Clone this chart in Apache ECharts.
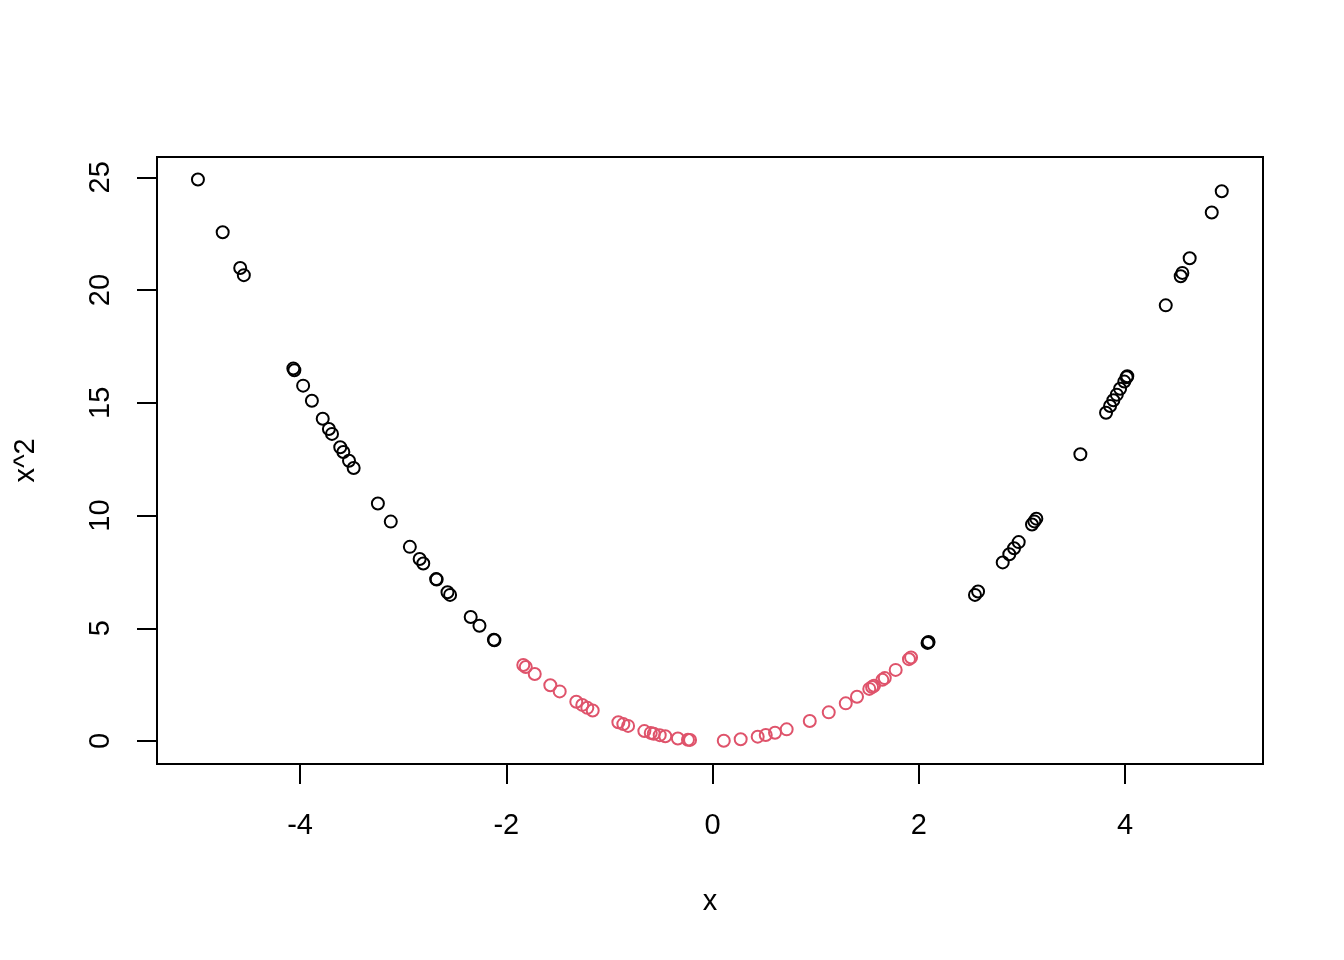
<!DOCTYPE html>
<html>
<head>
<meta charset="utf-8">
<script src="https://cdn.jsdelivr.net/npm/echarts@6/dist/echarts.min.js"></script>
<style>
html,body{margin:0;padding:0;background:#fff;}
#chart{width:1344px;height:960px;}
</style>
</head>
<body>
<div id="chart"></div>
<script>
// x values with |x| >= 2 (black) and their squares
const blackX = [-4.99, -4.75, -4.58, -4.545, -4.065, -4.055, -3.97, -3.885, -3.78, -3.72, -3.69, -3.61, -3.58, -3.525, -3.48,
  -3.245, -3.12, -2.935, -2.84, -2.805, -2.68, -2.675, -2.57, -2.545, -2.345, -2.26, -2.12, -2.115,
  2.085, 2.095, 2.545, 2.575, 2.814, 2.878, 2.924, 2.969, 3.098, 3.121, 3.140, 3.567,
  3.816, 3.855, 3.887, 3.920, 3.952, 3.993, 4.016, 4.022, 4.395, 4.540, 4.556, 4.627, 4.841, 4.938];
const blackY = [24.90, 22.56, 20.98, 20.66, 16.52, 16.44, 15.76, 15.09, 14.29, 13.84, 13.62, 13.03, 12.82, 12.43, 12.11,
  10.53, 9.73, 8.61, 8.07, 7.87, 7.18, 7.16, 6.60, 6.48, 5.50, 5.11, 4.49, 4.47,
  4.35, 4.39, 6.48, 6.63, 7.92, 8.28, 8.55, 8.82, 9.60, 9.74, 9.86, 12.72,
  14.56, 14.86, 15.11, 15.36, 15.62, 15.94, 16.13, 16.18, 19.32, 20.61, 20.76, 21.41, 23.44, 24.38];
// x values with |x| < 2 (red) and their squares
const redX = [-1.835, -1.811, -1.724, -1.573, -1.482, -1.321, -1.263, -1.214, -1.162, -0.913, -0.865, -0.819,
  -0.661, -0.599, -0.570, -0.512, -0.458, -0.336, -0.238, -0.218,
  0.109, 0.273, 0.438, 0.516, 0.606, 0.719, 0.943, 1.127, 1.292, 1.401, 1.520, 1.547, 1.566, 1.647, 1.670, 1.776, 1.905, 1.925];
const redY = [3.37, 3.28, 2.97, 2.47, 2.20, 1.74, 1.60, 1.47, 1.35, 0.83, 0.75, 0.67,
  0.44, 0.36, 0.32, 0.26, 0.21, 0.11, 0.057, 0.048,
  0.012, 0.075, 0.192, 0.266, 0.367, 0.517, 0.889, 1.270, 1.669, 1.963, 2.311, 2.393, 2.452, 2.713, 2.789, 3.154, 3.629, 3.706];
const xTicks = [-4, -2, 0, 2, 4];
const yTicks = [0, 5, 10, 15, 20, 25];

const pair = (xs, ys) => xs.map((v, i) => [v, ys[i]]);
const FONT = "'Liberation Sans', Arial, sans-serif";

const chart = echarts.init(document.getElementById('chart'), null, {renderer: 'canvas'});
chart.setOption({
  backgroundColor: '#ffffff',
  animation: false,
  grid: {
    left: 157, right: 81, top: 157, bottom: 196,
    show: true, borderColor: '#000', borderWidth: 2, backgroundColor: 'transparent',
    containLabel: false, outerBoundsMode: 'none'
  },
  xAxis: {
    type: 'value', min: -5.387, max: 5.338, position: 'bottom',
    name: 'x', nameLocation: 'middle', nameGap: 123,
    nameTextStyle: {fontFamily: FONT, fontSize: 29, color: '#000'},
    axisLine: {show: false, onZero: false},
    splitLine: {show: false},
    axisTick: {show: true, customValues: xTicks, length: 20, lineStyle: {color: '#000', width: 2}},
    axisLabel: {customValues: xTicks, fontFamily: FONT, fontSize: 29, color: '#000', margin: 47}
  },
  yAxis: {
    type: 'value', min: -1.02, max: 25.90, position: 'left',
    name: 'x^2', nameLocation: 'middle', nameGap: 117, nameRotate: 90,
    nameTextStyle: {fontFamily: FONT, fontSize: 29, color: '#000'},
    axisLine: {show: false, onZero: false},
    splitLine: {show: false},
    axisTick: {show: true, customValues: yTicks, length: 20, lineStyle: {color: '#000', width: 2}},
    axisLabel: {customValues: yTicks, rotate: 90, fontFamily: FONT, fontSize: 29, color: '#000', margin: 42}
  },
  series: [
    {
      type: 'scatter', data: pair(blackX, blackY), symbol: 'circle', symbolSize: 12,
      itemStyle: {color: 'rgba(0,0,0,0)', borderColor: '#000000', borderWidth: 2, opacity: 1},
      emphasis: {disabled: true}
    },
    {
      type: 'scatter', data: pair(redX, redY), symbol: 'circle', symbolSize: 12,
      itemStyle: {color: 'rgba(0,0,0,0)', borderColor: '#DF536B', borderWidth: 2, opacity: 1},
      emphasis: {disabled: true}
    }
  ]
});
</script>
</body>
</html>
